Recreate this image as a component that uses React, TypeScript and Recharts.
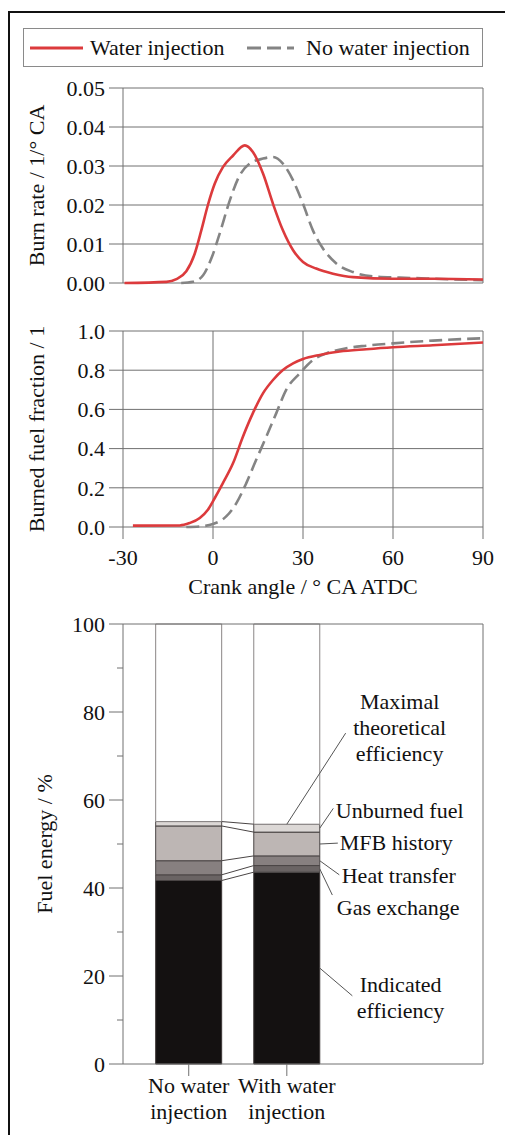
import {
  LineChart,
  Line,
  XAxis,
  YAxis,
  CartesianGrid,
  BarChart,
  Bar,
  ReferenceLine,
  ReferenceDot,
} from 'recharts'

const FONT = '"Liberation Serif", "Times New Roman", serif'
const INK = '#111'
const GRID = '#707070'
const RED = '#dc3a3c'
const GRAY = '#848484'
const DASH = '13 6'

const SERIES_NAMES = ['Water injection', 'No water injection']

// Burn rate, water injection
const wiRateAngle = [-29.5, -15.5, -12.2, -8.9, -6.1, -3.9, -1.7, 0.6, 3.3, 6.7, 10.6, 13.3, 16.7, 20, 23.3, 26.7, 30, 34.4, 40, 46.7, 60, 73.3, 90]
const wiRate = [0, 0.0003, 0.001, 0.003, 0.0075, 0.0135, 0.02, 0.0255, 0.0297, 0.0327, 0.0353, 0.0336, 0.028, 0.0203, 0.0135, 0.0084, 0.0054, 0.0037, 0.0024, 0.0015, 0.0011, 0.0011, 0.0009]

// Burn rate, no water injection
const nwRateAngle = [-10.6, -6.7, -3.3, -0.6, 2.2, 5.6, 8.9, 12.2, 16.7, 20, 23.3, 26.7, 30, 33.3, 36.7, 41.1, 46.7, 53.3, 62.2, 73.3, 90]
const nwRate = [0, 0.0003, 0.002, 0.0062, 0.0126, 0.0212, 0.0276, 0.0306, 0.0319, 0.0323, 0.0306, 0.0263, 0.0203, 0.0135, 0.0088, 0.005, 0.0028, 0.0017, 0.0014, 0.0011, 0.0007]

// Burned fuel fraction, water injection
const wiMfbAngle = [-26.7, -11.1, -7.8, -4.4, -1.7, 0.6, 3.3, 6.7, 10, 13.3, 16.7, 20, 23.3, 26.7, 30, 35.6, 42.2, 51.1, 60, 73.3, 90]
const wiMfb = [0.007, 0.008, 0.02, 0.046, 0.088, 0.148, 0.224, 0.326, 0.462, 0.581, 0.683, 0.75, 0.801, 0.835, 0.857, 0.878, 0.895, 0.907, 0.917, 0.927, 0.941]

// Burned fuel fraction, no water injection
const nwMfbAngle = [-8.9, -4.4, 0, 4.4, 7.8, 11.1, 14.4, 17.8, 21.1, 24.4, 28.9, 33.3, 37.8, 44.4, 51.1, 60, 73.3, 90]
const nwMfb = [0, 0.003, 0.015, 0.054, 0.122, 0.224, 0.343, 0.462, 0.581, 0.7, 0.784, 0.852, 0.886, 0.912, 0.925, 0.937, 0.951, 0.963]

const ANGLE_TICKS = [-30, 0, 30, 60, 90]
const RATE_TICKS = [0, 0.01, 0.02, 0.03, 0.04, 0.05]
const MFB_TICKS = [0, 0.2, 0.4, 0.6, 0.8, 1.0]

// Energy balance (fuel energy %)
const categories = ['No water injection', 'With water injection']
const categoryLines = [['No water', 'injection'], ['With water', 'injection']]
const indicated = [41.7, 43.6]
const gasExchange = [1.3, 1.5]
const heatTransfer = [3.2, 2.2]
const mfbHistory = [7.9, 5.4]
const unburned = [1.0, 1.8]
const remainder = [44.9, 45.5]

const ENERGY_TICKS = [0, 10, 20, 30, 40, 50, 60, 70, 80, 90, 100]

const SEGMENTS = [
  { key: 'indicated', values: indicated, fill: '#141111', stroke: '#3a3535' },
  { key: 'gasExchange', values: gasExchange, fill: '#6a6464', stroke: '#4a4545' },
  { key: 'heatTransfer', values: heatTransfer, fill: '#878080', stroke: '#4a4545' },
  { key: 'mfbHistory', values: mfbHistory, fill: '#bdb6b4', stroke: '#4a4545' },
  { key: 'unburned', values: unburned, fill: '#dcd8d6', stroke: '#4a4545' },
  { key: 'remainder', values: remainder, fill: '#ffffff', stroke: '#8a8686' },
]

const toPoints = (xs: number[], ys: number[]) => xs.map((a, i) => ({ angle: a, value: ys[i] }))

const energyData = categories.map((name, i) => {
  const row: Record<string, number | string> = { x: i + 1, name }
  for (const s of SEGMENTS) row[s.key] = s.values[i]
  return row
})

// cumulative top of each segment per bar
const stackTops = categories.map((_, i) => {
  let sum = 0
  return SEGMENTS.map((s) => (sum += s.values[i]))
})

const BAR_SIZE = 66
const BAR_HALF = 0.336 // half bar width in x units

// annotation layout (label anchor and leader end), in data units
const ANNOTATIONS = [
  { lines: ['Maximal', 'theoretical', 'efficiency'], seg: 4, top: true, to: [2.6, 75.2], at: [3.15, 76.3], anchor: 'middle' },
  { lines: ['Unburned fuel'], seg: 4, to: [2.474, 58.1], at: [2.5, 57.6], anchor: 'start' },
  { lines: ['MFB history'], seg: 3, to: [2.52, 50.2], at: [2.54, 50.2], anchor: 'start' },
  { lines: ['Heat transfer'], seg: 2, to: [2.535, 43.0], at: [2.56, 42.7], anchor: 'start' },
  { lines: ['Gas exchange'], seg: 1, to: [2.464, 38.4], at: [2.51, 35.4], anchor: 'start' },
  { lines: ['Indicated', 'efficiency'], seg: 0, to: [2.668, 15.5], at: [3.16, 15.0], anchor: 'middle' },
]

const tickStyle = { fill: INK, fontSize: 22, fontFamily: FONT, style: { fontFamily: FONT } }

function rotatedTitle(text: string, cx: number) {
  return (p: any) => {
    const vb = p.viewBox || {}
    const cy = vb.y + vb.height / 2
    return (
      <text
        x={cx}
        y={cy}
        dy="0.33em"
        textAnchor="middle"
        transform={`rotate(-90 ${cx} ${cy})`}
        fill={INK}
        fontSize={22}
        style={{ fontFamily: FONT }}
      >
        {text}
      </text>
    )
  }
}

function multiLineLabel(lines: string[], anchor: string) {
  return (p: any) => {
    const vb = p.viewBox || {}
    const n = lines.length
    return (
      <text x={vb.x} y={vb.y} textAnchor={anchor} fill={INK} fontSize={22} style={{ fontFamily: FONT }}>
        {lines.map((l, i) => (
          <tspan key={i} x={vb.x} y={vb.y + 7 + (i - (n - 1) / 2) * 26}>
            {l}
          </tspan>
        ))}
      </text>
    )
  }
}

function EnergyTick({ x, y, payload }: any) {
  const major = payload.value % 20 === 0
  return (
    <g>
      <line x1={x + 4 + (major ? 0 : 8)} x2={x + 18} y1={y} y2={y} stroke={GRID} />
      {major && (
        <text x={x} y={y} dy="0.35em" textAnchor="end" {...tickStyle}>
          {payload.value}
        </text>
      )}
    </g>
  )
}

function CategoryTick({ x, y, payload }: any) {
  const lines = categoryLines[payload.value - 1] || []
  return (
    <text x={x} y={y} textAnchor="middle" {...tickStyle}>
      {lines.map((l, i) => (
        <tspan key={i} x={x} y={y + 17 + i * 26}>
          {l}
        </tspan>
      ))}
    </text>
  )
}

function LegendBox() {
  return (
    <svg width={505} height={70} style={{ position: 'absolute', left: 0, top: 0, fontFamily: FONT }}>
      <rect x={23.5} y={28.5} width={459} height={38} fill="#fff" stroke="#8a8a8a" />
      <line x1={30} x2={83} y1={48} y2={48} stroke={RED} strokeWidth={3} />
      <text x={90} y={55} fill={INK} fontSize={22}>
        {SERIES_NAMES[0]}
      </text>
      <line x1={247} x2={294} y1={48} y2={48} stroke={GRAY} strokeWidth={3} strokeDasharray="14 6" />
      <text x={306} y={55} fill={INK} fontSize={22}>
        {SERIES_NAMES[1]}
      </text>
    </svg>
  )
}

export default function App() {
  return (
    <div
      style={{
        position: 'fixed',
        left: 0,
        top: 0,
        width: 505,
        height: 1135,
        overflow: 'hidden',
        background: '#fff',
        fontFamily: FONT,
      }}
    >
      <div
        style={{
          position: 'absolute',
          left: 8,
          top: 11,
          width: 600,
          height: 1200,
          border: '2px solid #111',
        }}
      />
      <LegendBox />

      {/* Burn rate */}
      <div style={{ position: 'absolute', left: 0, top: 70 }}>
        <LineChart width={505} height={232} margin={{ top: 18, right: 22, bottom: 18, left: 0 }}>
          <CartesianGrid stroke={GRID} />
          <XAxis
            dataKey="angle"
            type="number"
            domain={[-30, 90]}
            ticks={ANGLE_TICKS}
            interval={0}
            height={1}
            tick={false}
            tickLine={false}
            axisLine={false}
          />
          <YAxis
            type="number"
            domain={[0, 0.05]}
            ticks={RATE_TICKS}
            interval={0}
            width={123}
            tickSize={14}
            tickMargin={4}
            axisLine={false}
            tickLine={{ stroke: GRID }}
            tick={tickStyle}
            tickFormatter={(v: number) => v.toFixed(2)}
            label={{ content: rotatedTitle('Burn rate / 1/° CA', 37) }}
          />
          <Line
            data={toPoints(nwRateAngle, nwRate)}
            dataKey="value"
            type="monotone"
            stroke={GRAY}
            strokeWidth={2.6}
            strokeDasharray={DASH}
            dot={false}
            isAnimationActive={false}
          />
          <Line
            data={toPoints(wiRateAngle, wiRate)}
            dataKey="value"
            type="monotone"
            stroke={RED}
            strokeWidth={2.6}
            dot={false}
            isAnimationActive={false}
          />
        </LineChart>
      </div>

      {/* Burned fuel fraction */}
      <div style={{ position: 'absolute', left: 0, top: 310 }}>
        <LineChart width={505} height={292} margin={{ top: 21, right: 22, bottom: 0, left: 0 }}>
          <CartesianGrid stroke={GRID} />
          <XAxis
            dataKey="angle"
            type="number"
            domain={[-30, 90]}
            ticks={ANGLE_TICKS}
            interval={0}
            height={75}
            tickSize={12}
            tickMargin={10}
            axisLine={false}
            tickLine={{ stroke: GRID }}
            tick={tickStyle}
            label={{
              content: (p: any) => {
                const vb = p.viewBox || {}
                return (
                  <text x={vb.x + vb.width / 2} y={vb.y + 67} textAnchor="middle" {...tickStyle}>
                    Crank angle / ° CA ATDC
                  </text>
                )
              },
            }}
          />
          <YAxis
            type="number"
            domain={[0, 1]}
            ticks={MFB_TICKS}
            interval={0}
            width={123}
            tickSize={14}
            tickMargin={4}
            axisLine={false}
            tickLine={{ stroke: GRID }}
            tick={tickStyle}
            tickFormatter={(v: number) => v.toFixed(1)}
            label={{ content: rotatedTitle('Burned fuel fraction / 1', 37) }}
          />
          <Line
            data={toPoints(nwMfbAngle, nwMfb)}
            dataKey="value"
            type="monotone"
            stroke={GRAY}
            strokeWidth={2.6}
            strokeDasharray={DASH}
            dot={false}
            isAnimationActive={false}
          />
          <Line
            data={toPoints(wiMfbAngle, wiMfb)}
            dataKey="value"
            type="monotone"
            stroke={RED}
            strokeWidth={2.6}
            dot={false}
            isAnimationActive={false}
          />
        </LineChart>
      </div>

      {/* Energy balance */}
      <div style={{ position: 'absolute', left: 0, top: 600 }}>
        <BarChart
          width={505}
          height={534}
          data={energyData}
          margin={{ top: 24, right: 22, bottom: 0, left: 0 }}
        >
          <XAxis
            dataKey="x"
            type="number"
            domain={[0.33, 4.0]}
            ticks={[1, 2]}
            interval={0}
            height={70}
            tickSize={12}
            tickMargin={0}
            axisLine={{ stroke: GRID }}
            tickLine={{ stroke: GRID }}
            tick={<CategoryTick />}
          />
          <YAxis
            type="number"
            domain={[0, 100]}
            ticks={ENERGY_TICKS}
            interval={0}
            width={123}
            tickSize={14}
            tickMargin={4}
            axisLine={{ stroke: GRID }}
            tickLine={false}
            tick={<EnergyTick />}
            label={{ content: rotatedTitle('Fuel energy / %', 45) }}
          />
          {SEGMENTS.map((s) => (
            <Bar
              key={s.key}
              dataKey={s.key}
              stackId="e"
              barSize={BAR_SIZE}
              fill={s.fill}
              stroke={s.stroke}
              strokeWidth={1}
              isAnimationActive={false}
            />
          ))}
          <ReferenceLine y={100} stroke={GRID} />
          <ReferenceLine x={4.0} stroke={GRID} />
          {SEGMENTS.slice(0, 5).map((s, k) => (
            <ReferenceLine
              key={'c' + s.key}
              segment={[
                { x: 1 + BAR_HALF, y: stackTops[0][k] },
                { x: 2 - BAR_HALF, y: stackTops[1][k] },
              ]}
              stroke="#4a4545"
              strokeWidth={1}
            />
          ))}
          {ANNOTATIONS.map((a, i) => {
            const tops = stackTops[1]
            const lo = a.seg === 0 ? 0 : tops[a.seg - 1]
            const from = a.top
              ? { x: 2, y: tops[a.seg] }
              : { x: 2 + BAR_HALF, y: (lo + tops[a.seg]) / 2 }
            return (
              <ReferenceLine
                key={'l' + i}
                segment={[from, { x: a.to[0], y: a.to[1] }]}
                stroke="#555"
                strokeWidth={1}
              />
            )
          })}
          {ANNOTATIONS.map((a, i) => (
            <ReferenceDot
              key={'t' + i}
              x={a.at[0]}
              y={a.at[1]}
              r={0}
              fill="none"
              stroke="none"
              label={{ content: multiLineLabel(a.lines, a.anchor) }}
            />
          ))}
        </BarChart>
      </div>
    </div>
  )
}
